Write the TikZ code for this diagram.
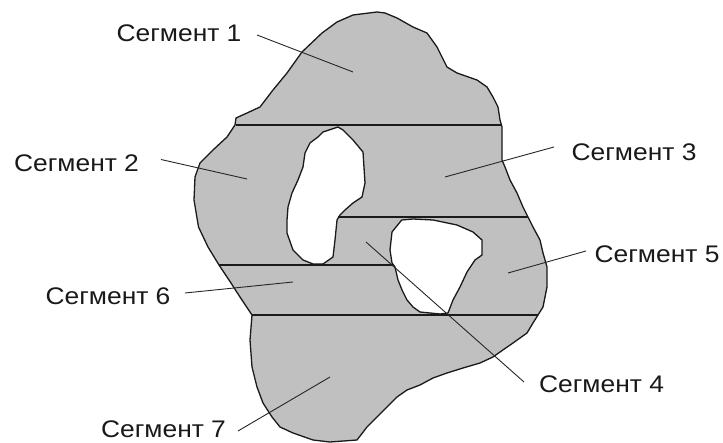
\documentclass[tikz,border=0pt]{standalone}
\usepackage{fontspec}
\usepackage{graphicx}
\setmainfont{Liberation Sans}
\newcommand{\seglbl}[1]{\scalebox{1.1}[1]{Сегмент #1}}
\definecolor{segfill}{HTML}{C0C0C0}
\definecolor{segline}{HTML}{1A1A1A}
\tikzset{
  lbl/.style={font=\fontsize{24}{24}\selectfont, inner sep=0pt, text=black!90},
  edge/.style={draw=segline, line width=1.3pt, line join=round},
  cut/.style={draw=segline, line width=1.5pt},
  leader/.style={draw=black!85, line width=0.9pt}
}
\begin{document}
\begin{tikzpicture}[x=1pt,y=-1pt]
\useasboundingbox (0,0) rectangle (723,443);
\def\outline{(385,13) -- (397,18) -- (413,27) -- (427,33) -- (437,47) -- (447,67) -- (457,73) -- (477,80) -- (487,87) -- (493,97) -- (498,107) -- (500,120) -- (502,127) -- (502,160) -- (505,167) -- (510,180) -- (517,193) -- (523,207) -- (528,217) -- (533,227) -- (540,240) -- (543,253) -- (547,267) -- (547,287) -- (543,307) -- (538,315) -- (533,323) -- (527,333) -- (513,343) -- (500,352) -- (493,357) -- (480,363) -- (463,368) -- (447,373) -- (433,378) -- (420,385) -- (407,390) -- (397,397) -- (387,407) -- (377,417) -- (367,427) -- (357,440) -- (330,442) -- (313,440) -- (293,433) -- (280,427) -- (272,417) -- (263,403) -- (257,387) -- (252,367) -- (250,340) -- (252,315) -- (240,297) -- (231,283) -- (219,265) -- (208,247) -- (198.5,227) -- (194,200) -- (195,177) -- (200,163) -- (213,150) -- (227,137) -- (235,125) -- (236,118) -- (247,113) -- (260,107) -- (273,90) -- (287,73) -- (302,52) -- (322,33) -- (337,22) -- (353,15) -- (377,12) -- cycle}
\def\holeA{(338,127) -- (343,130) -- (353,140) -- (363,152) -- (365,183) -- (362,197) -- (353,203) -- (345,210) -- (340,215) -- (337,220) -- (335,240) -- (333,257) -- (323,264) -- (313,264) -- (303,260) -- (293,250) -- (287,233) -- (287,220) -- (288,207) -- (292,193) -- (298,180) -- (303,167) -- (305,153) -- (310,143) -- (318,137) -- (323,132) -- cycle}
\def\holeB{(401.7,220) -- (413,219) -- (433,220) -- (457,225) -- (473,232) -- (482,240) -- (482,255) -- (475,260) -- (467,272) -- (460,287) -- (453,300) -- (448,313) -- (440,314) -- (430,313) -- (420,312) -- (413,307) -- (407,300) -- (402,290) -- (398,280) -- (395,267) -- (392,263) -- (390,250) -- (392,232) -- cycle}
\fill[segfill, even odd rule] \outline \holeA \holeB;
% horizontal cuts
\coordinate (c1a) at (236,125); \coordinate (c1b) at (501,125);
\coordinate (c2a) at (338,217); \coordinate (c2b) at (528,217);
\coordinate (c3a) at (219,265); \coordinate (c3b) at (393,265);
\coordinate (c4a) at (252,315); \coordinate (c4b) at (538,315);
\draw[cut] (c1a) -- (c1b);
\draw[cut] (c2a) -- (c2b);
\draw[cut] (c3a) -- (c3b);
\draw[cut] (c4a) -- (c4b);
\draw[edge] \outline;
\draw[edge] \holeA;
\draw[edge] \holeB;
% labels
\node[lbl] (s1) at (179,33.5) {\seglbl{1}};
\node[lbl] (s2) at (76.5,163.5) {\seglbl{2}};
\node[lbl] (s3) at (634,152) {\seglbl{3}};
\node[lbl] (s4) at (601.5,384) {\seglbl{4}};
\node[lbl] (s5) at (657,254) {\seglbl{5}};
\node[lbl] (s6) at (108,296) {\seglbl{6}};
\node[lbl] (s7) at (163.5,429) {\seglbl{7}};
% leader lines
\coordinate (l1a) at (257,35);  \coordinate (l1b) at (353,72);
\coordinate (l2a) at (161,159.5); \coordinate (l2b) at (247,179);
\coordinate (l3a) at (554,147); \coordinate (l3b) at (445,177);
\coordinate (l4a) at (366,242); \coordinate (l4b) at (524,382);
\coordinate (l5a) at (586,251); \coordinate (l5b) at (508,273);
\coordinate (l6a) at (185,293); \coordinate (l6b) at (293,282);
\coordinate (l7a) at (238,431); \coordinate (l7b) at (330,377);
\draw[leader] (l1a) -- (l1b);
\draw[leader] (l2a) -- (l2b);
\draw[leader] (l3a) -- (l3b);
\draw[leader] (l4a) -- (l4b);
\draw[leader] (l5a) -- (l5b);
\draw[leader] (l6a) -- (l6b);
\draw[leader] (l7a) -- (l7b);
\end{tikzpicture}
\end{document}
